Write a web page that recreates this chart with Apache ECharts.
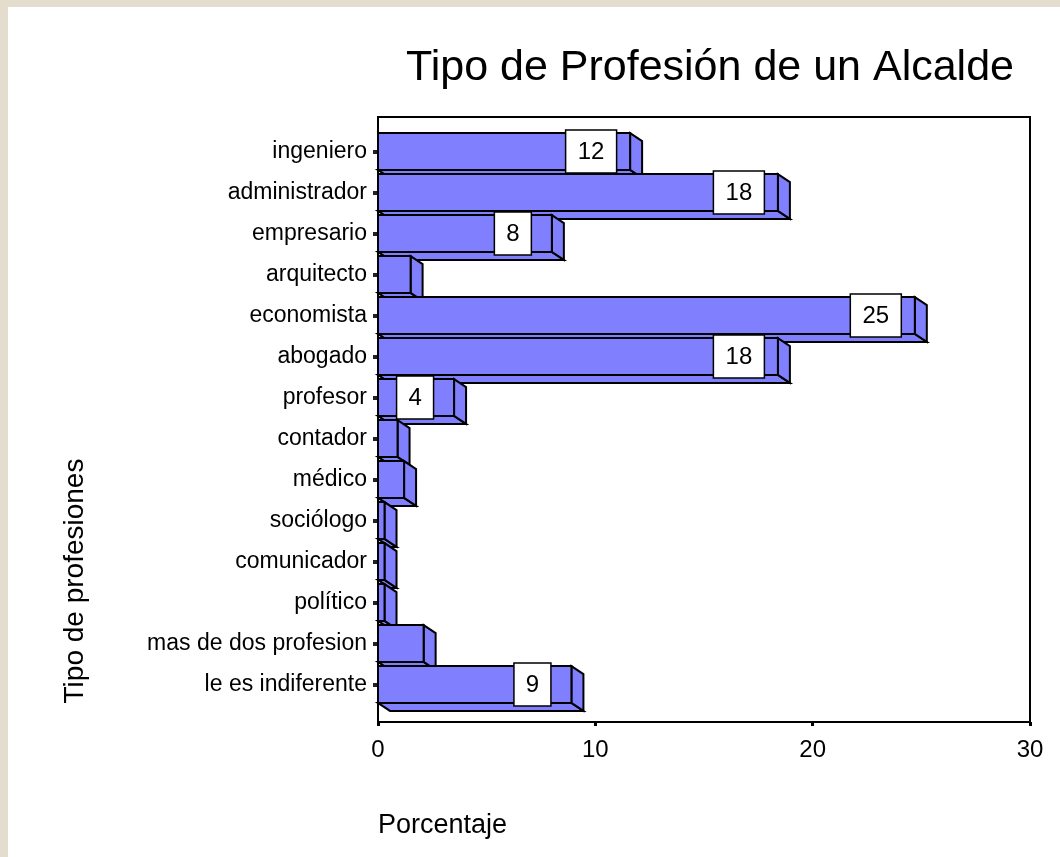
<!DOCTYPE html>
<html>
<head>
<meta charset="utf-8">
<script src="https://cdn.jsdelivr.net/npm/echarts@6/dist/echarts.min.js"></script>
<style>
  html, body { margin: 0; padding: 0; background: #fff; }
  #main { width: 1060px; height: 857px; }
</style>
</head>
<body>
<div id="main"></div>
<script>
// categorias (de arriba hacia abajo) y porcentajes
const profesiones = ['ingeniero', 'administrador', 'empresario', 'arquitecto', 'economista', 'abogado',
  'profesor', 'contador', 'médico', 'sociólogo', 'comunicador', 'político',
  'mas de dos profesion', 'le es indiferente']
const porcentajes = [11.6, 18.4, 8.0, 1.5, 24.7, 18.4, 3.5, 0.9, 1.2, 0.3, 0.3, 0.3, 2.1, 8.9]
const ejeX = { min: 0, max: 30, interval: 10 }

const FONT = '"Liberation Sans", Arial, sans-serif'
const AZUL = '#8080ff'
const DX = 12, DY = 8  // profundidad 3D

const chart = echarts.init(document.getElementById('main'))

function renderItem (params, api) {
  const v = api.value(0)
  const c = api.value(1)
  const end = api.coord([v, c])
  const start = api.coord([0, c])
  const h = api.size([0, 1])[1] * 0.9
  const x0 = start[0], x1 = end[0]
  const yT = end[1] - h / 2, yB = end[1] + h / 2
  const borde = { stroke: '#000', lineWidth: 2, fill: AZUL }
  const children = [
    { type: 'polygon', shape: { points: [[x0, yB], [x1, yB], [x1 + DX, yB + DY], [x0 + DX, yB + DY]] }, style: borde },
    { type: 'polygon', shape: { points: [[x1, yT], [x1 + DX, yT + DY], [x1 + DX, yB + DY], [x1, yB]] }, style: borde },
    { type: 'rect', shape: { x: x0, y: yT, width: x1 - x0, height: h }, style: borde }
  ]
  if (v >= 3) {
    const txt = String(Math.round(v))
    const w = txt.length > 1 ? 51 : 37
    const cx = x1 - 39
    children.push({ type: 'rect', shape: { x: cx - w / 2, y: end[1] - 21.5, width: w, height: 43 },
      style: { fill: '#fff', stroke: '#000', lineWidth: 1.5 } })
    children.push({ type: 'text', x: cx, y: end[1] + 1,
      style: { text: txt, fontSize: 24, fontFamily: FONT, fill: '#000',
        align: 'center', verticalAlign: 'middle' } })
  }
  return { type: 'group', children }
}

const option = {
  backgroundColor: '#fff',
  animation: false,
  grid: { left: 378, right: 30, top: 131, bottom: 152 },
  xAxis: {
    type: 'value', min: ejeX.min, max: ejeX.max, interval: ejeX.interval, offset: 17,
    axisLine: { show: true, lineStyle: { color: '#000', width: 2 } },
    axisTick: { show: true, length: 4, lineStyle: { color: '#000', width: 3 } },
    axisLabel: { fontSize: 24, color: '#000', fontFamily: FONT, margin: 16 },
    splitLine: { show: false }
  },
  yAxis: {
    type: 'category', inverse: true, data: profesiones,
    axisLine: { show: true, lineStyle: { color: '#000', width: 2 } },
    axisTick: { show: true, alignWithLabel: true, length: 5, lineStyle: { color: '#222', width: 4 } },
    axisLabel: { fontSize: 23, color: '#000', fontFamily: FONT, margin: 11 }
  },
  series: [{
    type: 'custom', clip: false,
    data: porcentajes.map((v, i) => [v, i]),
    encode: { x: 0, y: 1 },
    renderItem
  }],
  graphic: [
    { type: 'rect', shape: { x: 0, y: 0, width: 8, height: 857 }, style: { fill: '#e4dccd' }, silent: true },
    { type: 'rect', shape: { x: 0, y: 0, width: 1060, height: 7 }, style: { fill: '#e4dccd' }, silent: true },
    { type: 'rect', z: 10, shape: { x: 378, y: 117, width: 652, height: 605 },
      style: { fill: null, stroke: '#000', lineWidth: 2 }, silent: true },
    { type: 'text', x: 710, y: 68,
      style: { text: 'Tipo de Profesión de un Alcalde', fontSize: 43, fontFamily: FONT, fill: '#000',
        align: 'center', verticalAlign: 'middle' } },
    { type: 'text', x: 75, y: 581, rotation: Math.PI / 2,
      style: { text: 'Tipo de profesiones', fontSize: 28, fontFamily: FONT, fill: '#000',
        align: 'center', verticalAlign: 'middle' } },
    { type: 'text', x: 378, y: 826,
      style: { text: 'Porcentaje', fontSize: 27, fontFamily: FONT, fill: '#000',
        align: 'left', verticalAlign: 'middle' } }
  ]
}

chart.setOption(option)
</script>
</body>
</html>
